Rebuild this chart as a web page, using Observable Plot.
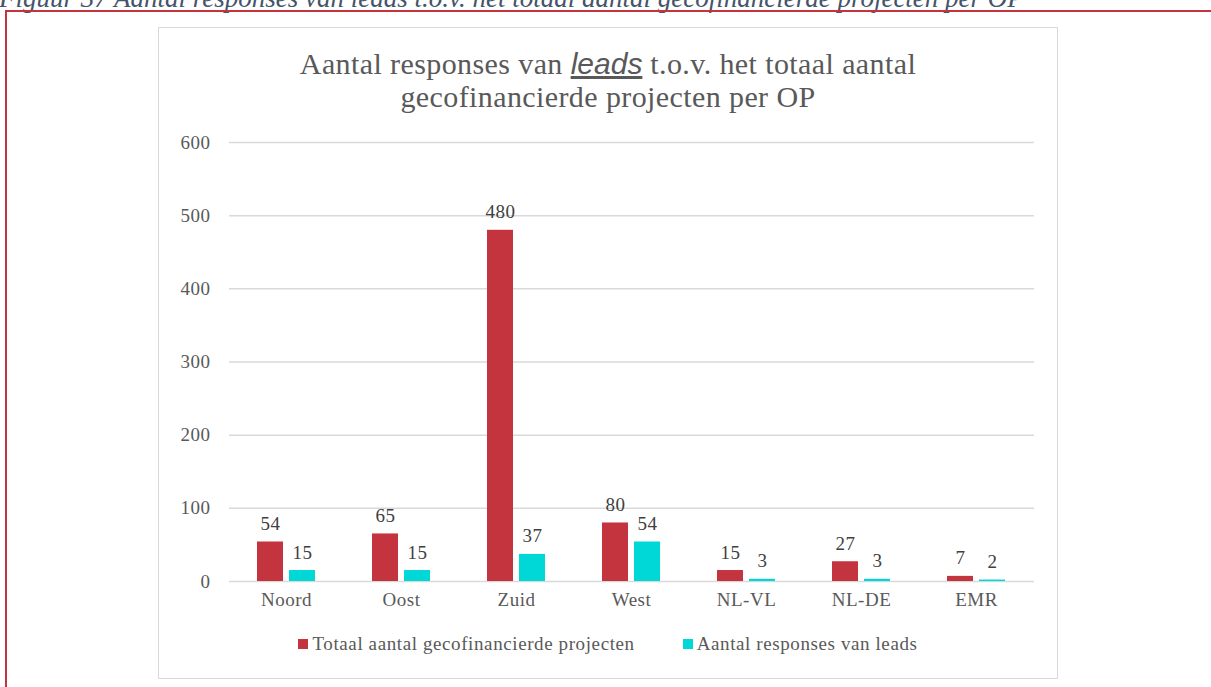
<!DOCTYPE html>
<html>
<head>
<meta charset="utf-8">
<script src="https://cdn.jsdelivr.net/npm/d3@7"></script>
<script src="https://cdn.jsdelivr.net/npm/@observablehq/plot@0.6"></script>
<style>
  html, body { margin: 0; padding: 0; background: #fff; width: 1211px; height: 687px; overflow: hidden; position: relative; }
  #caption { position: absolute; left: -1px; top: -15px; font-family: "Liberation Serif", serif; font-style: italic; font-size: 27px; line-height: 26px; color: #44546A; white-space: nowrap; }
  #frame { position: absolute; left: 5px; top: 10px; width: 1300px; height: 800px; border-top: 2px solid #C4343F; border-left: 2px solid #C4343F; }
  #box { position: absolute; left: 158px; top: 27px; width: 898px; height: 650px; border: 1px solid #D9D9D9; background: #fff; }
  #title { position: absolute; left: 0; top: 19px; width: 898px; text-align: center; font-family: "Liberation Serif", serif; font-size: 30px; letter-spacing: 0.4px; line-height: 33px; color: #595959; }
  #title .lead { font-family: "Liberation Sans", sans-serif; font-style: italic; text-decoration: underline; letter-spacing: 0; }
  #grid, #chart { position: absolute; left: 0; top: 93px; }
  #legend { position: absolute; left: 0; top: 605px; width: 898px; display: flex; justify-content: center; font-family: "Liberation Serif", serif; font-size: 19px; letter-spacing: 0.6px; color: #595959; }
  #legend .item { display: flex; align-items: center; margin: 0 24px; }
  #legend .sw { width: 10px; height: 10px; margin-right: 4px; }
</style>
</head>
<body>
<div id="caption">Figuur 37 Aantal responses van leads t.o.v. het totaal aantal gecofinancierde projecten per OP</div>
<div id="frame"></div>
<div id="box">
  <div id="title">Aantal responses van <span class="lead">leads</span> t.o.v. het totaal aantal<br>gecofinancierde projecten per OP</div>
  <div id="grid"></div>
  <div id="chart"></div>
  <div id="legend"></div>
</div>
<script>
const categories = ["Noord", "Oost", "Zuid", "West", "NL-VL", "NL-DE", "EMR"];
const totaalProjecten = [54, 65, 480, 80, 15, 27, 7];
const responsesLeads = [15, 15, 37, 54, 3, 3, 2];
const seriesNames = ["Totaal aantal gecofinancierde projecten", "Aantal responses van leads"];
const seriesColors = ["#C4343F", "#00D8D8"];
const yTicks = [0, 100, 200, 300, 400, 500, 600];

const data = categories.flatMap((c, i) => [
  {category: c, series: seriesNames[0], value: totaalProjecten[i]},
  {category: c, series: seriesNames[1], value: responsesLeads[i]}
]);

const dims = {width: 898, height: 500, marginLeft: 70, marginRight: 23, marginTop: 21, marginBottom: 40};
const baseStyle = {fontFamily: "Liberation Serif, serif", fontSize: "19px", color: "#595959", background: "transparent", overflow: "visible", letterSpacing: "0.5px"};

// Background layer: y axis and continuous gridlines
const grid = Plot.plot({
  ...dims,
  style: baseStyle,
  y: {domain: [0, 600], ticks: yTicks, label: null, tickSize: 0, tickPadding: 19},
  marks: [
    Plot.ruleY(yTicks, {stroke: "#D9D9D9", strokeWidth: 1.5})
  ]
});
document.getElementById("grid").appendChild(grid);

// Foreground layer: grouped bars and value labels
const chart = Plot.plot({
  ...dims,
  style: baseStyle,
  fx: {domain: categories, paddingInner: 0.477, paddingOuter: 0.2385, label: null, tickSize: 0, tickPadding: 11, axis: "bottom", fontSize: 20},
  x: {domain: seriesNames, paddingInner: 0.18, paddingOuter: 0, axis: null},
  y: {domain: [0, 600], ticks: yTicks, label: null, axis: null},
  color: {domain: seriesNames, range: seriesColors},
  marks: [
    Plot.barY(data, {fx: "category", x: "series", y: "value", fill: "series"}),
    Plot.text(data, {fx: "category", x: "series", y: "value", text: d => String(d.value), dy: -12, lineAnchor: "bottom", fill: "#404040", fontSize: 19})
  ]
});
document.getElementById("chart").appendChild(chart);

const legend = document.getElementById("legend");
seriesNames.forEach((s, i) => {
  const item = document.createElement("div");
  item.className = "item";
  const sw = document.createElement("div");
  sw.className = "sw";
  sw.style.background = seriesColors[i];
  const t = document.createElement("span");
  t.textContent = s;
  item.appendChild(sw);
  item.appendChild(t);
  legend.appendChild(item);
});
</script>
</body>
</html>
